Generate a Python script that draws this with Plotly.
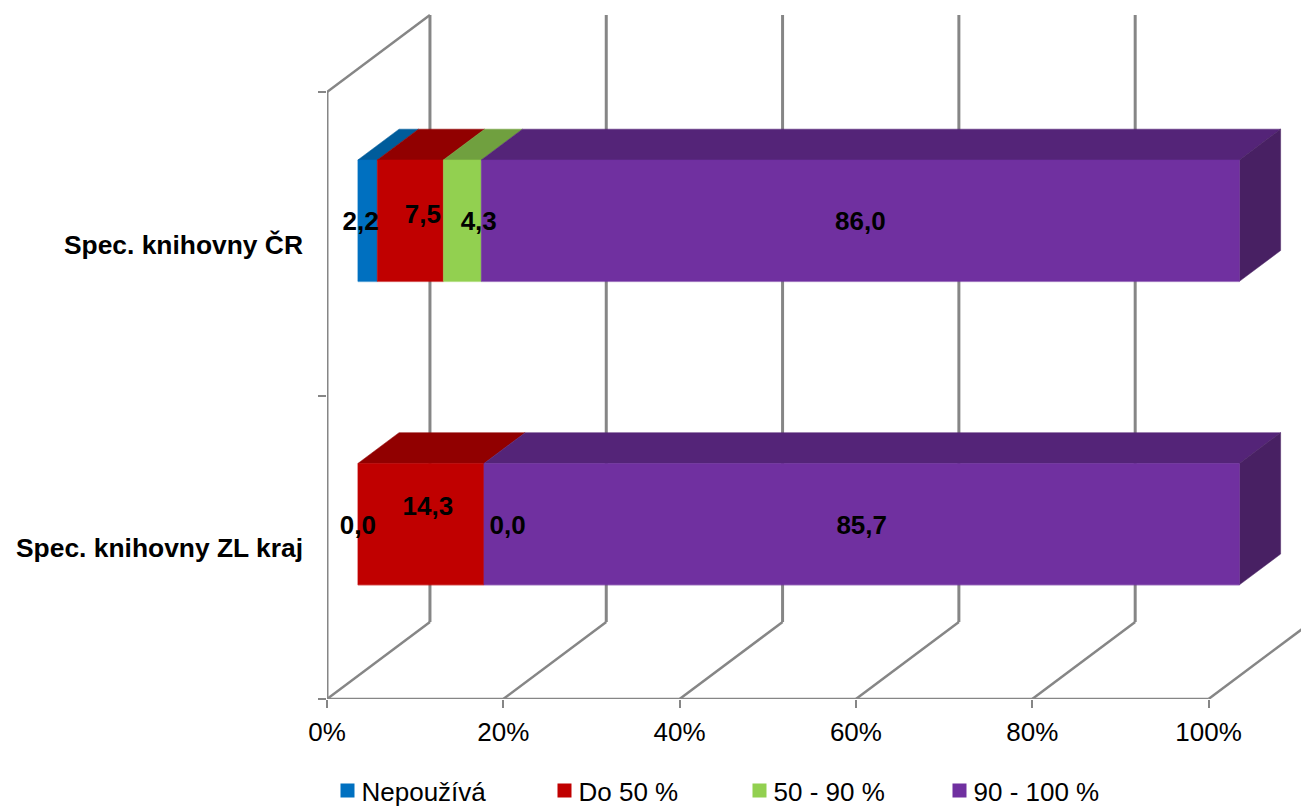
import plotly.graph_objects as go

# ---- data ----
categories = ["Spec. knihovny ZL kraj", "Spec. knihovny ČR"]
series_names = ["Nepoužívá", "Do 50 %", "50 - 90 %", "90 - 100 %"]
nepouziva = [0.0, 2.2]
do_50 = [14.3, 7.5]
od_50_90 = [0.0, 4.3]
od_90_100 = [85.7, 86.0]
x_ticks = [0, 20, 40, 60, 80, 100]
x_tick_labels = ["0%", "20%", "40%", "60%", "80%", "100%"]

# ---- style ----
series_values = [nepouziva, do_50, od_50_90, od_90_100]
front = ["#0070C0", "#C00000", "#92D050", "#7030A0"]
top = ["#005C9B", "#910000", "#70A03F", "#542478"]
side_color = "#482063"
grid = "#868686"
FONT = "Liberation Sans, Arial, sans-serif"
FS = 26

# plot box in pixels
W, H = 1301, 806
L, R_PX, T, B = 326.5, 0, 14, 699
PX_X = 8.82      # px per percent
PX_Y = 303.5     # px per category
DX = 103 / PX_X  # oblique depth in data units
DY = 77 / PX_Y
BAR_D0, BAR_DEPTH, BAR_H = 0.3, 0.4, 0.4

# nudges of the data labels (Excel places them off-centre), px, per series then category
nudge_x = [[0, -7], [7, 12.5], [23.7, 16.4], [0, 0]]
nudge_y = [[3, 3], [-16, -4], [3, 3], [3, 3]]


def poly(xs, ys, color):
    return go.Scatter(x=xs, y=ys, mode="lines", fill="toself", fillcolor=color,
                      line=dict(color=color, width=0.5), hoverinfo="skip",
                      showlegend=False, cliponaxis=False)


def gline(xs, ys, width):
    return go.Scatter(x=xs, y=ys, mode="lines", line=dict(color=grid, width=width),
                      hoverinfo="skip", showlegend=False, cliponaxis=False)


fig = go.Figure()

# walls and floor
for t in x_ticks:
    fig.add_trace(gline([t, t + DX], [0, DY], 2.5))
    if t < 100:
        fig.add_trace(gline([t + DX, t + DX], [DY, 2 + DY], 3))
fig.add_trace(gline([0, 0], [0, 2], 3))
fig.add_trace(gline([0, DX], [2, 2 + DY], 2.5))
fig.add_trace(gline([0, 100], [0, 0], 2.5))

# bars
label_x, label_y, label_text = [], [], []
for c in range(len(categories)):
    y0 = c + 0.5 - BAR_H / 2 + BAR_D0 * DY
    y1 = y0 + BAR_H
    xo = BAR_D0 * DX
    ddx, ddy = BAR_DEPTH * DX, BAR_DEPTH * DY
    cum = 0.0
    for s in range(len(series_names)):
        v = series_values[s][c]
        a, b = xo + cum, xo + cum + v
        if v > 0:
            fig.add_trace(poly([a, a + ddx, b + ddx, b, a], [y1, y1 + ddy, y1 + ddy, y1, y1], top[s]))
            if s == len(series_names) - 1:
                fig.add_trace(poly([b, b + ddx, b + ddx, b, b],
                                   [y0, y0 + ddy, y1 + ddy, y1, y0], side_color))
            fig.add_trace(poly([a, b, b, a, a], [y0, y0, y1, y1, y0], front[s]))
            fig.add_trace(go.Scatter(x=[a, b], y=[y0, y0], mode="lines", opacity=0.25,
                                     line=dict(color=front[s], width=2), hoverinfo="skip",
                                     showlegend=False, cliponaxis=False))
        label_x.append((a + b) / 2 + nudge_x[s][c] / PX_X)
        label_y.append((y0 + y1) / 2 - nudge_y[s][c] / PX_Y)
        label_text.append(f"{v:.1f}".replace(".", ","))
        cum += v

fig.add_trace(go.Scatter(x=label_x, y=label_y, text=label_text, mode="text",
                         textposition="middle center", hoverinfo="skip", showlegend=False,
                         cliponaxis=False,
                         textfont=dict(family=FONT, size=FS, color="black", weight="bold")))

# legend entries
widths = [186, 164, 169, 150]
for s, name in enumerate(series_names):
    fig.add_trace(go.Scatter(x=[None], y=[None], mode="markers", name=name,
                             legendwidth=widths[s],
                             marker=dict(symbol="square", size=14, color=front[s])))

fig.update_layout(
    width=W, height=H,
    margin=dict(l=L, r=R_PX, t=T, b=H - B, pad=0, autoexpand=False),
    paper_bgcolor="white", plot_bgcolor="rgba(0,0,0,0)",
    font=dict(family=FONT, size=FS, color="black"),
    xaxis=dict(range=[0, (W - L) / PX_X], tickvals=x_ticks, ticktext=x_tick_labels,
               ticks="outside", ticklen=8, tickwidth=1.5, tickcolor=grid, showgrid=False,
               zeroline=False, showline=False, tickfont=dict(family=FONT, size=FS, color="black"),
               ticklabelstandoff=2),
    yaxis=dict(range=[0, (B - T) / PX_Y], tickvals=[0.497, 1.497], ticktext=categories,
               ticks="", showgrid=False, zeroline=False, showline=False, ticklabelstandoff=23,
               tickfont=dict(family=FONT, size=26.4, color="black", weight="bold"),
               minor=dict(tickvals=[0, 1, 2], ticks="outside", ticklen=8, tickwidth=2,
                          tickcolor=grid, showgrid=False)),
    legend=dict(orientation="h", x=(335 - L) / (W - L), xanchor="left",
                y=(B - 767) / (B - T), yanchor="top", indentation=-14,
                font=dict(family=FONT, size=FS, color="black"), bgcolor="rgba(0,0,0,0)",
                tracegroupgap=0),
)

# the legend swatch sits closer to its text in the reference than plotly's fixed gap allows
post = """
document.body.style.margin='0';document.body.style.overflow='hidden';
function nudgeLegend(){document.querySelectorAll('.legendsymbols').forEach(function(e){e.setAttribute('transform','translate(6,0)');});}
nudgeLegend();setTimeout(nudgeLegend,0);setTimeout(nudgeLegend,100);
"""
fig.write_html("out.html", config=dict(displayModeBar=False), post_script=post)
